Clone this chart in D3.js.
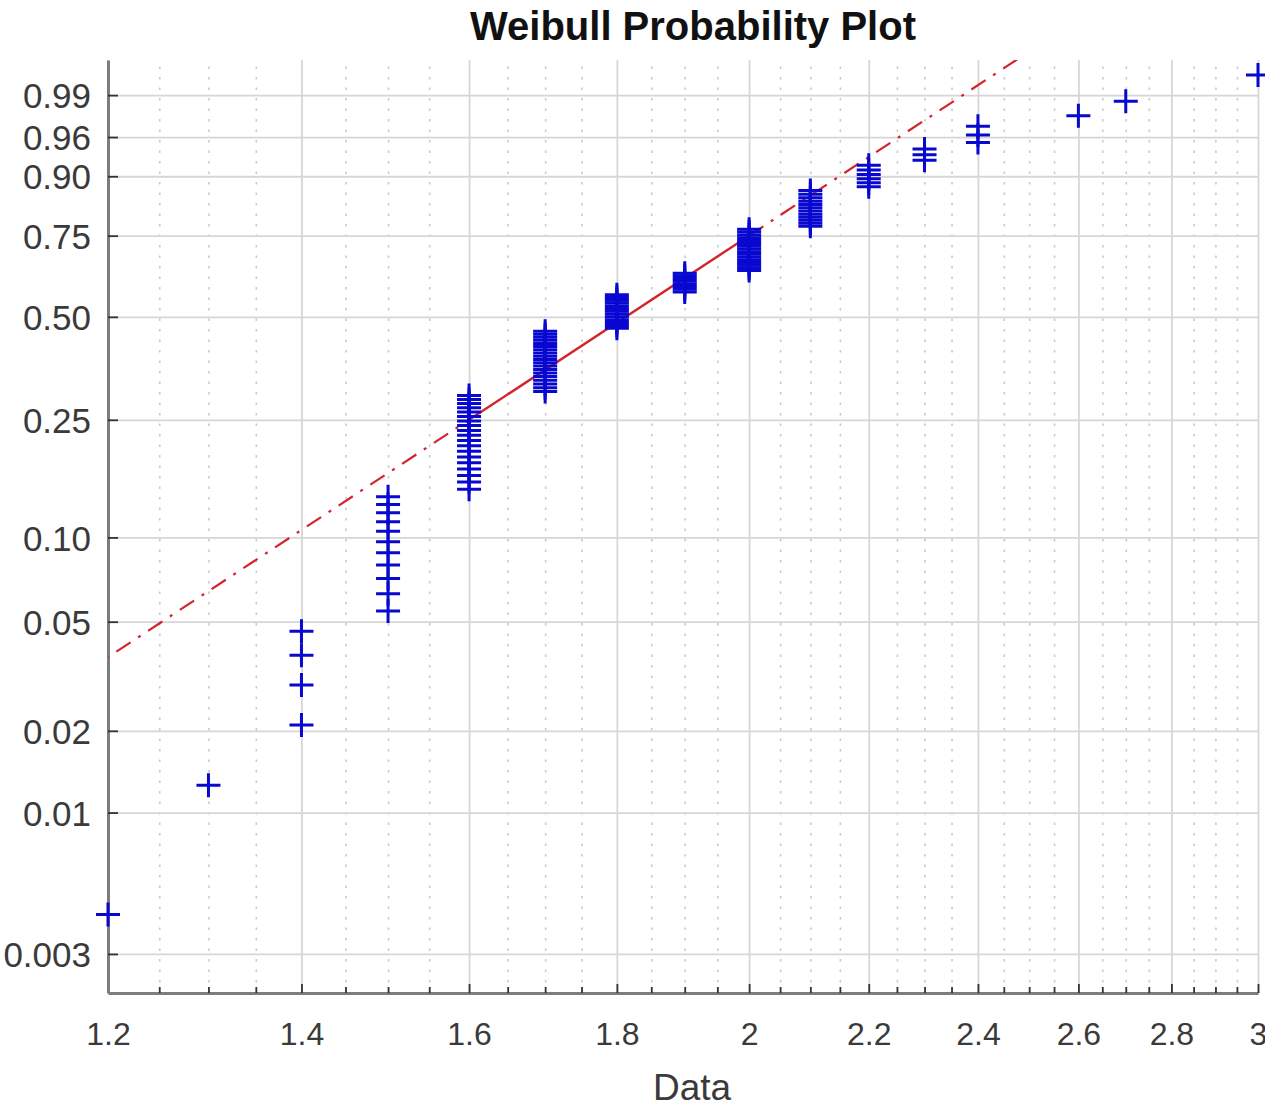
<!DOCTYPE html>
<html>
<head>
<meta charset="utf-8">
<script src="https://cdn.jsdelivr.net/npm/d3@7"></script>
<style>
  body { margin: 0; background: #fff; }
  svg { display: block; font-family: "Liberation Sans", Arial, Helvetica, sans-serif; }
</style>
</head>
<body>
<svg id="chart" width="1265" height="1109"></svg>
<script>
// Sample values (recorded to 0.1) and how many times each one occurs
const sampleValues = [1.2, 1.3, 1.4, 1.5, 1.6, 1.7, 1.8, 1.9, 2.0, 2.1, 2.2, 2.3, 2.4, 2.6, 2.7, 3.0];
const sampleCounts = [1, 1, 4, 11, 19, 19, 13, 8, 16, 12, 6, 3, 3, 1, 1, 1];

// Axis ticks
const xTickValues = [1.2, 1.4, 1.6, 1.8, 2, 2.2, 2.4, 2.6, 2.8, 3];
const xTickLabels = ["1.2", "1.4", "1.6", "1.8", "2", "2.2", "2.4", "2.6", "2.8", "3"];
const yTickProbs  = [0.003, 0.01, 0.02, 0.05, 0.10, 0.25, 0.50, 0.75, 0.90, 0.96, 0.99];
const yTickLabels = ["0.003", "0.01", "0.02", "0.05", "0.10", "0.25", "0.50", "0.75", "0.90", "0.96", "0.99"];

// Axis limits
const xLimits = [1.2, 3];
const probLimits = [0.00215, 0.998];

// ---- layout ----
const plot = { left: 108, right: 1258, top: 60, bottom: 993 };

// Weibull probability transform: ln(-ln(1-p))
const wb = p => Math.log(-Math.log(1 - p));

const x = d3.scaleLog().domain(xLimits).range([plot.left, plot.right]);
const y = d3.scaleLinear().domain([wb(probLimits[0]), wb(probLimits[1])]).range([plot.bottom, plot.top]);

// Expand the tallied sample and attach plotting positions (i - 0.5) / n
const sample = sampleValues.flatMap((v, k) => d3.range(sampleCounts[k]).map(() => v)).sort(d3.ascending);
const n = sample.length;
const points = sample.map((v, i) => ({ v, p: (i + 0.5) / n }));

const svg = d3.select("#chart");

svg.append("defs").append("clipPath").attr("id", "plotClip")
  .append("rect")
  .attr("x", plot.left).attr("y", plot.top)
  .attr("width", plot.right - plot.left + 10).attr("height", plot.bottom - plot.top);

// ---- grid ----
const minorX = d3.range(1.25, 2.999, 0.05).map(v => +v.toFixed(2))
  .filter(v => !xTickValues.some(t => Math.abs(t - v) < 1e-6));

const gridMinor = svg.append("g")
  .attr("transform", `translate(0,${plot.bottom})`)
  .call(d3.axisBottom(x).tickValues(minorX).tickSize(-(plot.bottom - plot.top)).tickFormat(""));
gridMinor.select(".domain").remove();
gridMinor.selectAll("line")
  .attr("stroke", "#c9c9c9").attr("stroke-width", 1.6).attr("stroke-dasharray", "2.5,8");

const gridX = svg.append("g")
  .attr("transform", `translate(0,${plot.bottom})`)
  .call(d3.axisBottom(x).tickValues(xTickValues).tickSize(-(plot.bottom - plot.top)).tickFormat(""));
gridX.select(".domain").remove();
gridX.selectAll("line").attr("stroke", "#d6d6d6").attr("stroke-width", 1.8);

const gridY = svg.append("g")
  .attr("transform", `translate(${plot.left},0)`)
  .call(d3.axisLeft(y).tickValues(yTickProbs.map(wb)).tickSize(-(plot.right - plot.left)).tickFormat(""));
gridY.select(".domain").remove();
gridY.selectAll("line").attr("stroke", "#d6d6d6").attr("stroke-width", 1.8);

// ---- axes ----
const axisX = svg.append("g")
  .attr("transform", `translate(0,${plot.bottom})`)
  .call(d3.axisBottom(x).tickValues(xTickValues)
    .tickFormat((d, i) => xTickLabels[i]).tickSizeInner(-9).tickSizeOuter(0).tickPadding(29));
const axisXMinor = svg.append("g")
  .attr("transform", `translate(0,${plot.bottom})`)
  .call(d3.axisBottom(x).tickValues(minorX).tickFormat("").tickSizeInner(-6).tickSizeOuter(0));
axisXMinor.select(".domain").remove();

const axisY = svg.append("g")
  .attr("transform", `translate(${plot.left},0)`)
  .call(d3.axisLeft(y).tickValues(yTickProbs.map(wb))
    .tickFormat((d, i) => yTickLabels[i]).tickSizeInner(-10).tickSizeOuter(0).tickPadding(17));

[axisX, axisY].forEach(g => {
  g.select(".domain").attr("stroke", "#7d7d7d").attr("stroke-width", 3);
  g.selectAll("text").attr("fill", "#3a3a3a");
});
axisX.selectAll("text").style("font-size", "32px").attr("dy", "0.71em");
axisY.selectAll("text").style("font-size", "35px").attr("dy", "0.36em");
[axisX, axisXMinor, axisY].forEach(g => {
  g.selectAll(".tick line").attr("stroke", "#333").attr("stroke-width", 1.8);
});

// ---- reference line through the first and third quartiles ----
const q1 = d3.quantile(sample, 0.25);
const q3 = d3.quantile(sample, 0.75);
const slope = (wb(0.75) - wb(0.25)) / (Math.log(q3) - Math.log(q1));
const refY = v => wb(0.25) + slope * (Math.log(v) - Math.log(q1));
const lineGen = d3.line().x(v => x(v)).y(v => y(refY(v)));
const [xmin, xmax] = d3.extent(sample);

const refG = svg.append("g").attr("clip-path", "url(#plotClip)");
refG.append("path").attr("d", lineGen([xmin, q1]))
  .attr("fill", "none").attr("stroke", "#d4232b").attr("stroke-width", 2.2)
  .attr("stroke-dasharray", "17,9,3,9").attr("stroke-dashoffset", -10);
refG.append("path").attr("d", lineGen([q3, xmax]))
  .attr("fill", "none").attr("stroke", "#d4232b").attr("stroke-width", 2.2)
  .attr("stroke-dasharray", "17,9,3,9");
refG.append("path").attr("d", lineGen([q1, q3]))
  .attr("fill", "none").attr("stroke", "#d4232b").attr("stroke-width", 2.4);

// ---- data markers ----
const half = 12;
const marks = svg.append("g").attr("stroke", "#0808d0").attr("stroke-width", 3).attr("fill", "none");
marks.selectAll("path.pt").data(points).join("path")
  .attr("class", "pt")
  .attr("d", d => {
    const cx = x(d.v), cy = y(wb(d.p));
    return `M${cx - half},${cy}H${cx + half}M${cx},${cy - half}V${cy + half}`;
  });

// ---- labels ----
svg.append("text")
  .attr("x", 693).attr("y", 40)
  .attr("text-anchor", "middle").attr("font-weight", "bold")
  .style("font-size", "40px").attr("fill", "#111")
  .text("Weibull Probability Plot");

svg.append("text")
  .attr("x", 692).attr("y", 1100)
  .attr("text-anchor", "middle")
  .style("font-size", "37px").attr("fill", "#3a3a3a")
  .text("Data");
</script>
</body>
</html>
